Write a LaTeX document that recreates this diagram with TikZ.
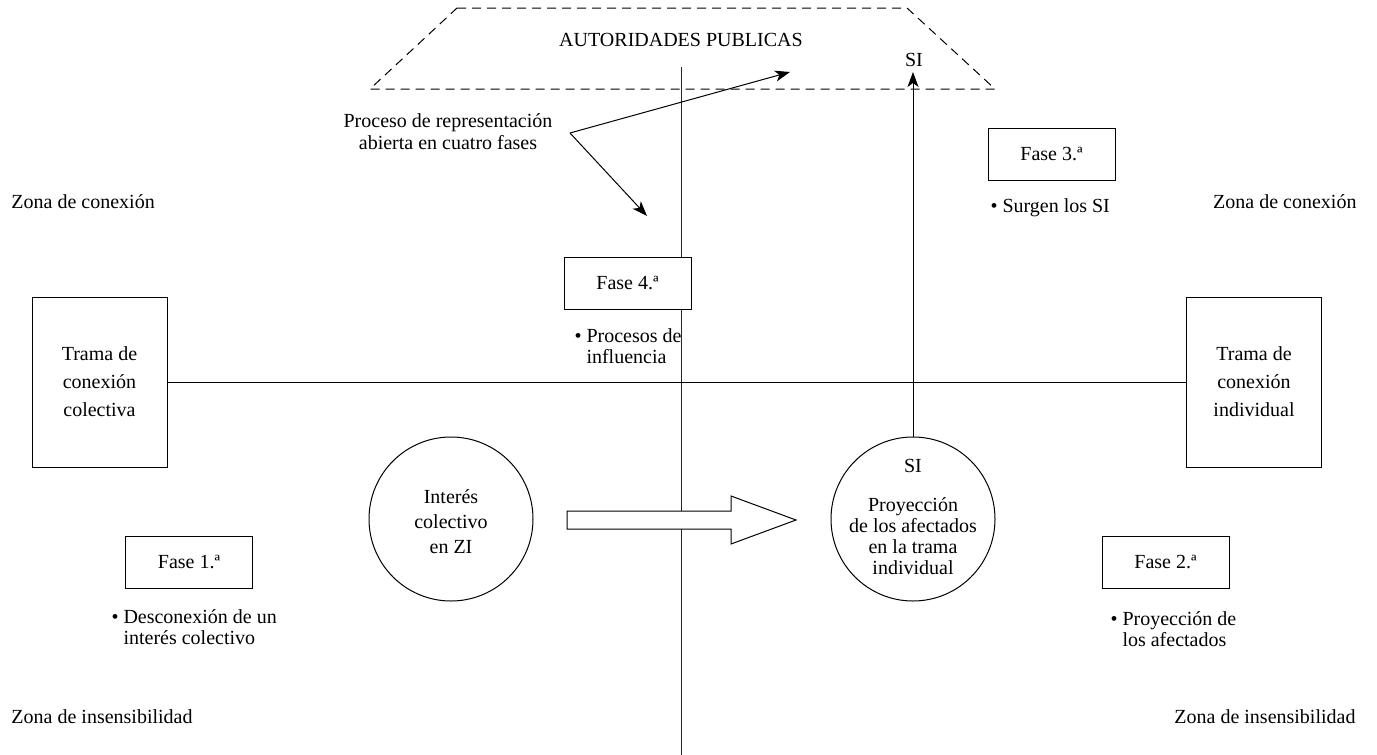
\documentclass[tikz,border=0pt]{standalone}
\usepackage{fontspec}
\setmainfont{Liberation Serif}
\usetikzlibrary{arrows.meta}
\begin{document}
\begin{tikzpicture}[x=1pt,y=-1pt,line width=1pt,
  every node/.style={font=\fontsize{20}{21}\selectfont,inner sep=0pt},
  fasebox/.style={draw,fill=white,minimum width=127pt,minimum height=52pt},
  tramabox/.style={draw,fill=white,minimum width=135pt,minimum height=170pt,align=center,font=\fontsize{20}{28}\selectfont},
  circ/.style={draw,fill=white,circle,minimum size=164pt},
  bullettxt/.style={align=left,anchor=west},
  ctxt/.style={align=center},
  arr/.style={-{Stealth[length=15pt,width=11pt,inset=4pt]}},
  dashedline/.style={dash pattern=on 9pt off 6pt,line width=1pt},
]
\useasboundingbox (0,0) rectangle (1377,755);

% trapezoid
\draw[dashedline] (457,8) -- (907,8) -- (995,89) -- (370,89) -- cycle;
\node (aut) at (681,40) {AUTORIDADES PUBLICAS};
\node (sitop) at (914,60) {SI};

% axes
\coordinate (vtop) at (681,67);
\coordinate (vbot) at (681,755);
\draw[black!85] (vtop) -- (vbot);

% trama boxes
\node[tramabox] (tl) at (99.5,382) {Trama de\\conexión\\colectiva};
\node[tramabox] (tr) at (1254,382) {Trama de\\conexión\\individual};
\draw (tl.east) -- (tr.west);

% zone labels
\node[anchor=west] (zc1) at (11,202) {Zona de conexión};
\node[anchor=east] (zc2) at (1357,202) {Zona de conexión};
\node[anchor=west] (zi1) at (11,717) {Zona de insensibilidad};
\node[anchor=east] (zi2) at (1356,717) {Zona de insensibilidad};

% process label and arrows
\node[ctxt,font=\fontsize{20}{22}\selectfont] (proc) at (448,132) {Proceso de representación\\abierta en cuatro fases};
\coordinate (v) at (570,133);
\coordinate (t1) at (790,72);
\coordinate (t2) at (647,216);
\draw[arr] (v) -- (t1);
\draw[arr] (v) -- (t2);

% fase boxes
\node[fasebox] (f3) at (1051.5,154) {Fase 3.ª};
\node[bullettxt] (b3) at (990,208) {• Surgen los SI};
\node[fasebox] (f4) at (627.5,283) {Fase 4.ª};
\node[bullettxt] (b4) at (574,346) {• Procesos de\\\hphantom{• }influencia};
\node[fasebox] (f1) at (189,562) {Fase 1.ª};
\node[bullettxt] (b1) at (111,627) {• Desconexión de un\\\hphantom{• }interés colectivo};
\node[fasebox] (f2) at (1165.5,562) {Fase 2.ª};
\node[bullettxt] (b2) at (1110,629) {• Proyección de\\\hphantom{• }los afectados};

% circles
\node[circ] (c1) at (451,519) {};
\node[ctxt,font=\fontsize{20}{25}\selectfont] (c1t) at (451,522) {Interés\\colectivo\\en ZI};
\node[circ] (c2) at (913,519) {};
\node (c2si) at (913,466) {SI};
\node[ctxt] (c2t) at (913,536) {Proyección\\de los afectados\\en la trama\\individual};

% SI arrow
\coordinate (sitip) at (913,72);
\draw[arr] (c2.north) -- (sitip);

% block arrow
\draw[fill=white] (567,511) -- (731,511) -- (731,496) -- (796,520) -- (731,544) -- (731,529) -- (567,529) -- cycle;
\end{tikzpicture}
\end{document}
